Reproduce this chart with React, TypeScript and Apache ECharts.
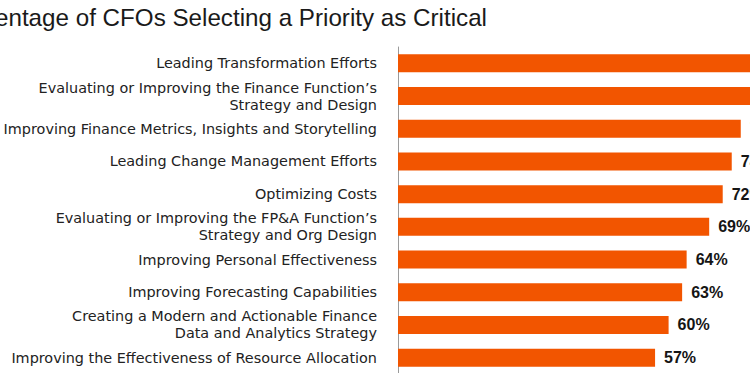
import React, { useEffect, useRef } from "react";
import * as echarts from "echarts";

const categories = [
  "Leading Transformation Efforts",
  "Evaluating or Improving the Finance Function’s\nStrategy and Design",
  "Improving Finance Metrics, Insights and Storytelling",
  "Leading Change Management Efforts",
  "Optimizing Costs",
  "Evaluating or Improving the FP&A Function’s\nStrategy and Org Design",
  "Improving Personal Effectiveness",
  "Improving Forecasting Capabilities",
  "Creating a Modern and Actionable Finance\nData and Analytics Strategy",
  "Improving the Effectiveness of Resource Allocation",
];
const values = [82, 80, 76, 74, 72, 69, 64, 63, 60, 57];
const subtitle = "Percentage of CFOs Selecting a Priority as Critical";

const FONT = "'Liberation Sans', Arial, sans-serif";
const LABEL_FONT = "'DejaVu Sans', sans-serif";

export default function App() {
  const ref = useRef<HTMLDivElement>(null);
  useEffect(() => {
    if (!ref.current) return;
    const chart = echarts.init(ref.current, undefined, { renderer: "svg" });
    chart.setOption({
      animation: false,
      backgroundColor: "#ffffff",
      textStyle: { fontFamily: FONT },
      graphic: [
        {
          type: "text",
          x: 487,
          y: 17,
          style: {
            text: subtitle,
            fontFamily: FONT,
            fontSize: 24.2,
            fill: "#1a1a1a",
            align: "right",
            verticalAlign: "middle",
          },
        },
      ],
      grid: {
        left: 398,
        top: 47,
        width: 451,
        height: 327,
        containLabel: false,
        outerBoundsMode: "none",
      },
      xAxis: {
        type: "value",
        min: 0,
        max: 100,
        show: false,
        splitLine: { show: false },
      },
      yAxis: {
        type: "category",
        data: categories,
        inverse: true,
        axisTick: { show: false },
        axisLine: { show: true, lineStyle: { color: "#9a9a9a", width: 1 } },
        axisLabel: {
          fontFamily: LABEL_FONT,
          fontSize: 14.4,
          color: "#222222",
          lineHeight: 17,
          margin: 21,
          align: "right",
        },
      },
      series: [
        {
          type: "bar",
          data: values,
          barWidth: 18,
          itemStyle: { color: "#F25500" },
          label: {
            show: true,
            position: "right",
            distance: 9,
            formatter: "{c}%",
            fontFamily: FONT,
            fontSize: 16,
            fontWeight: "bold",
            color: "#151515",
          },
        },
      ],
    });
    return () => chart.dispose();
  }, []);
  return <div ref={ref} style={{ width: 750, height: 373, position: "absolute", left: 0, top: 0 }} />;
}
